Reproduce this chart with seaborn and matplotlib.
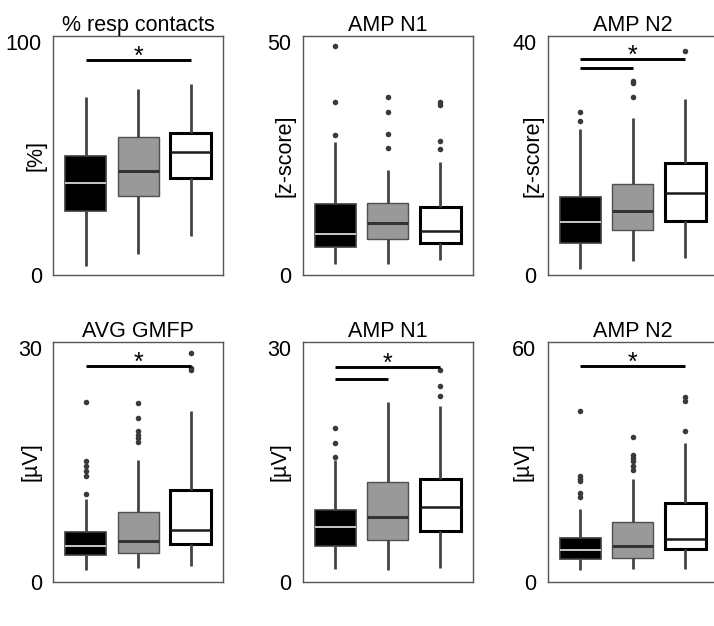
import numpy as np
import pandas as pd
import matplotlib
matplotlib.use("Agg")
import matplotlib.pyplot as plt
import seaborn as sns

# ---------------- data ----------------
groups = ["G1", "G2", "G3"]

titles = ["% resp contacts", "AMP N1", "AMP N2", "AVG GMFP", "AMP N1", "AMP N2"]
ylabels = ["[%]", "[z-score]", "[z-score]", "[\u00b5V]", "[\u00b5V]", "[\u00b5V]"]
ytop = [100, 50, 40, 30, 30, 60]

whisker_low = [
    [3.9, 9.3, 16.7],
    [2.5, 2.3, 3.2],
    [1.1, 2.4, 2.9],
    [1.5, 1.8, 2.0],
    [1.6, 1.5, 1.8],
    [3.0, 3.3, 3.3],
]
q1 = [
    [27.5, 34.0, 41.5],
    [6.0, 7.8, 7.0],
    [5.5, 7.7, 9.3],
    [3.4, 3.7, 4.8],
    [4.6, 5.4, 6.5],
    [5.8, 6.0, 8.3],
]
median = [
    [39.5, 44.8, 52.9],
    [8.8, 11.3, 9.4],
    [9.2, 11.0, 14.1],
    [4.6, 5.2, 6.6],
    [7.0, 8.3, 9.6],
    [8.2, 9.2, 10.9],
]
q3 = [
    [51.1, 59.4, 61.2],
    [15.3, 15.5, 14.6],
    [13.5, 15.7, 19.3],
    [6.4, 8.9, 11.8],
    [9.2, 12.8, 13.2],
    [11.1, 15.2, 20.3],
]
whisker_high = [
    [76.5, 79.7, 81.8],
    [28.6, 22.5, 24.2],
    [25.0, 27.0, 30.3],
    [10.6, 15.6, 21.9],
    [15.6, 23.1, 22.6],
    [18.6, 26.3, 35.7],
]
outliers = [
    [[], [], []],
    [[49.1, 37.2, 30.1], [38.2, 34.9, 30.3, 27.2], [37.1, 36.4, 28.8, 27.0]],
    [[28.0, 26.5], [33.4, 32.9, 30.6], [38.4]],
    [[23.1, 15.5, 14.8, 14.2, 13.6, 11.3], [23.0, 21.1, 19.4, 18.9, 18.5, 18.0], [29.4, 27.5, 27.2]],
    [[19.7, 17.8, 16.0], [], [27.2, 25.1, 23.9]],
    [[44.0, 27.2, 26.4, 25.9, 22.7, 21.7], [37.1, 32.6, 31.9, 30.9, 29.8, 28.7], [47.5, 46.4, 38.7]],
]
# significance bars: (from group index, to group index, height)
sig_bars = [
    [(0, 2, 92.3)],
    [],
    [(0, 2, 37.1), (0, 1, 35.6)],
    [(0, 2, 27.7)],
    [(0, 2, 27.6), (0, 1, 26.1)],
    [(0, 2, 55.4)],
]

# ---------------- tables ----------------
rows = []
for p in range(6):
    for g in range(3):
        for v in (whisker_low[p][g], q1[p][g], median[p][g], q3[p][g], whisker_high[p][g]):
            rows.append({"panel": p, "group": groups[g], "value": v})
box_df = pd.DataFrame(rows)

orows = []
for p in range(6):
    for g in range(3):
        for v in outliers[p][g]:
            orows.append({"panel": p, "group": groups[g], "value": v})
out_df = pd.DataFrame(orows)

# ---------------- style ----------------
sns.set_style("white")
plt.rcParams["font.family"] = ["Liberation Sans", "DejaVu Sans"]
plt.rcParams["text.color"] = "black"
plt.rcParams["axes.labelcolor"] = "black"
plt.rcParams["ytick.color"] = "black"
plt.rcParams["ytick.labelcolor"] = "black"
FS = 15.5

styles = [
    dict(face="#000000", edge="#3c3c3c", elw=1.2, med="#d8d8d8", mlw=1.3),
    dict(face="#999999", edge="#505050", elw=1.0, med="#333333", mlw=2.2),
    dict(face="#ffffff", edge="#000000", elw=2.2, med="#1a1a1a", mlw=1.8),
]

W, H = 714, 626
fig = plt.figure(figsize=(W / 100, H / 100), dpi=100)

col_left = [53, 302.5, 547.5]
row_top = [36, 342.3]
aw, ah = 170, 239.2
label_x = [-0.04, -0.04, -0.024, -0.068, -0.068, -0.08]
title_pad = [3.0, 3.0, 3.0, -1.5, -1.5, -1.5]

for p in range(6):
    r, c = divmod(p, 3)
    ax = fig.add_axes([col_left[c] / W, 1 - (row_top[r] + ah) / H, aw / W, ah / H])
    sub = box_df[box_df.panel == p]
    for g in range(3):
        st = styles[g]
        sns.boxplot(
            data=sub[sub.group == groups[g]], x="group", y="value", order=groups,
            whis=np.inf, width=0.78, showcaps=False, saturation=1, ax=ax,
            boxprops=dict(facecolor=st["face"], edgecolor=st["edge"], linewidth=st["elw"]),
            whiskerprops=dict(color="#444444", linewidth=2.0),
            medianprops=dict(color=st["med"], linewidth=st["mlw"]),
        )
    osub = out_df[out_df.panel == p]
    if len(osub):
        sns.stripplot(data=osub, x="group", y="value", order=groups, jitter=False,
                      color="#3a3a3a", size=4.0, ax=ax, zorder=5)
    for (a, b, h) in sig_bars[p]:
        ax.plot([a, b], [h, h], color="black", linewidth=2.1, solid_capstyle="butt", zorder=6)
    if sig_bars[p]:
        top_h = max(h for _, _, h in sig_bars[p])
        ax.annotate("*", xy=(1, top_h), xytext=(0, -2.5), textcoords="offset points",
                    ha="center", va="baseline", fontsize=18, color="black", zorder=7)

    ax.set_xlim(-0.62, 2.61)
    ax.set_ylim(0, ytop[p] * 1.026)
    ax.set_yticks([0, ytop[p]])
    ax.set_yticklabels([0, ytop[p]])
    ax.set_xticks([])
    ax.set_xlabel("")
    ax.tick_params(axis="y", length=0, pad=8, labelsize=FS, labelcolor="black")
    ax.set_ylabel(ylabels[p], fontsize=FS, color="black")
    ax.yaxis.set_label_coords(label_x[p], 0.5)
    ax.set_title(titles[p], fontsize=FS, pad=title_pad[p], color="black")
    for s in ax.spines.values():
        s.set_visible(True)
        s.set_color("#555555")
        s.set_linewidth(1.0)
    if c == 2:
        ax.spines["right"].set_visible(False)
    ax.grid(False)

fig.savefig("out.png", dpi=100)
